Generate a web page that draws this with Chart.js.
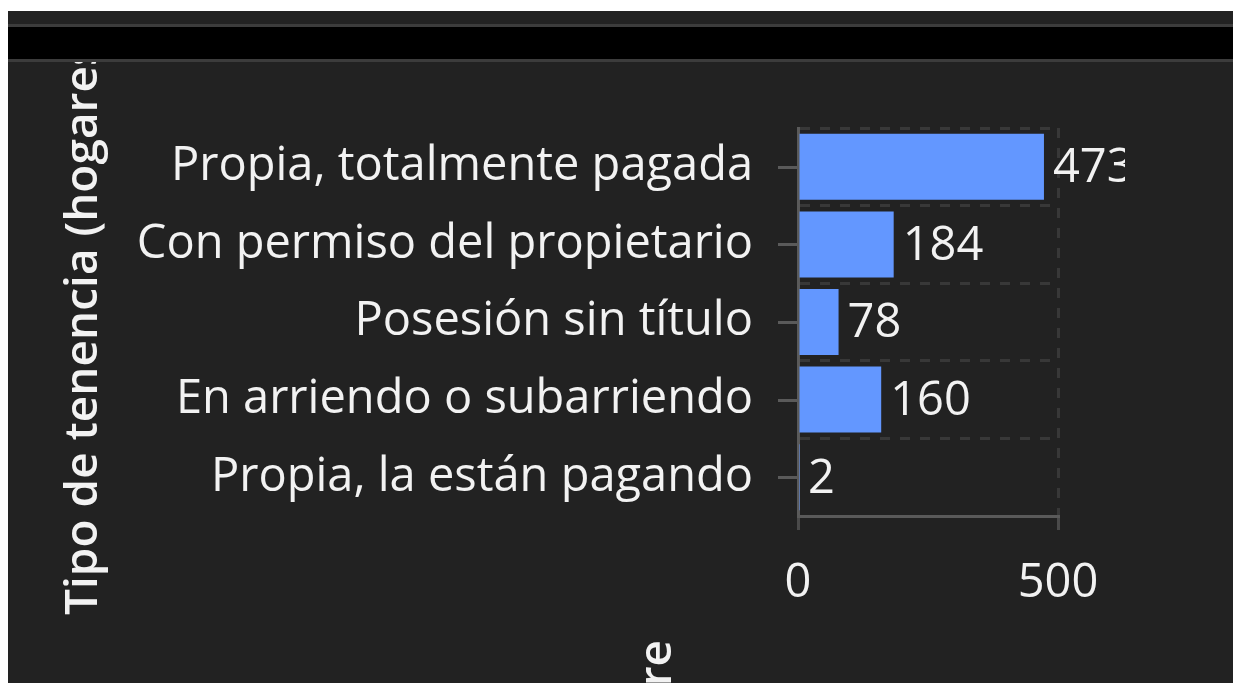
<!DOCTYPE html>
<html>
<head>
<meta charset="utf-8">
<script src="https://cdn.jsdelivr.net/npm/chart.js"></script>
<style>
  body { margin: 0; background: #ffffff; overflow: hidden; }
  #wrap { position: absolute; left: 8px; top: 11px; right: 0; bottom: 0; background: #222222; overflow: hidden; }
  #myChart { position: absolute; left: 0; top: 0; }
  #cover { position: absolute; left: 0; right: 0; top: 0; height: 13px; background: #222222; }
  #band { position: absolute; left: 0; right: 0; top: 13px; height: 32px; background: #000000;
          border-top: 3px solid #3c3c3c; border-bottom: 3px solid #3c3c3c; }
</style>
</head>
<body>
<div id="wrap">
  <canvas id="myChart" width="1117" height="672"></canvas>
  <div id="cover"></div>
  <div id="band"></div>
</div>
<script>
// categories and values
const categories = [
    'Propia, totalmente pagada',
    'Con permiso del propietario',
    'Posesión sin título',
    'En arriendo o subarriendo',
    'Propia, la están pagando'
];
const hogares = [473, 184, 78, 160, 2];
const xTicks = [0, 500];

const yTitle = 'Tipo de tenencia (hogares)';
const xTitle = 'Número de hogare';

const textColor = '#f2f2f2';
const fontFamily = '"Open Sans", "Noto Sans", sans-serif';

// value label at the end of each bar
const valueLabels = {
    id: 'valueLabels',
    afterDatasetsDraw(chart) {
        const ctx = chart.ctx;
        const meta = chart.getDatasetMeta(0);
        ctx.save();
        ctx.fillStyle = textColor;
        ctx.font = '47px ' + fontFamily;
        ctx.textAlign = 'left';
        ctx.textBaseline = 'middle';
        meta.data.forEach(function(bar, i) {
            ctx.fillText(String(hogares[i]), bar.x + 9, bar.y + 2);
        });
        ctx.restore();
    }
};

// tick marks of the category axis sit on the category centres,
// while its grid lines stay on the boundaries
const categoryTicks = {
    id: 'categoryTicks',
    afterDraw(chart) {
        const ctx = chart.ctx;
        const yScale = chart.scales.y;
        const left = chart.chartArea.left;
        ctx.save();
        ctx.strokeStyle = '#5a5a5a';
        ctx.lineWidth = 3;
        categories.forEach(function(c, i) {
            const y = Math.round(yScale.getPixelForValue(i)) + 0.5;
            ctx.beginPath();
            ctx.moveTo(left - 20, y);
            ctx.lineTo(left, y);
            ctx.stroke();
        });
        ctx.restore();
    }
};

// both axis titles are drawn turned upwards
const axisTitles = {
    id: 'axisTitles',
    afterDraw(chart) {
        const ctx = chart.ctx;
        const area = chart.chartArea;
        ctx.save();
        ctx.fillStyle = textColor;
        ctx.font = '600 46px ' + fontFamily;
        ctx.textBaseline = 'alphabetic';

        ctx.save();
        ctx.translate(89, (area.top + area.bottom) / 2);
        ctx.rotate(-Math.PI / 2);
        ctx.textAlign = 'center';
        ctx.fillText(yTitle, 0, 0);
        ctx.restore();

        ctx.save();
        ctx.translate(663, 629);
        ctx.rotate(-Math.PI / 2);
        ctx.textAlign = 'right';
        ctx.fillText(xTitle, 0, 0);
        ctx.restore();

        ctx.restore();
    }
};

const data = {
    labels: categories,
    datasets: [{
        label: 'Hogares',
        data: hogares,
        backgroundColor: '#6397ff',
        borderWidth: 0,
        barPercentage: 0.85,
        categoryPercentage: 1.0
    }]
};

const config = {
    type: 'bar',
    data: data,
    options: {
        indexAxis: 'y',
        responsive: false,
        devicePixelRatio: 1,
        animation: false,
        layout: { padding: { top: 117, right: 67, bottom: 0, left: 0 } },
        plugins: {
            legend: { display: false },
            tooltip: { enabled: false }
        },
        scales: {
            x: {
                type: 'linear',
                min: 0,
                max: 500,
                afterFit: function(scale) { scale.height = 167; },
                afterBuildTicks: function(scale) {
                    scale.ticks = xTicks.map(function(v) { return { value: v }; });
                },
                ticks: {
                    color: textColor,
                    font: { family: fontFamily, size: 47 },
                    padding: 25
                },
                grid: {
                    color: '#383838',
                    lineWidth: 3,
                    tickLength: 14,
                    tickColor: '#4a4a4a',
                    tickWidth: 3
                },
                border: { color: '#5a5a5a', width: 3, dash: [10, 10] }
            },
            y: {
                afterFit: function(scale) { scale.width = 790; },
                ticks: {
                    color: textColor,
                    font: { family: fontFamily, size: 47 },
                    padding: 45
                },
                grid: {
                    color: '#383838',
                    lineWidth: 3,
                    drawTicks: false
                },
                border: { color: '#5a5a5a', width: 3, dash: [10, 10] }
            }
        }
    },
    plugins: [valueLabels, categoryTicks, axisTitles]
};

var myChartJS = new Chart(document.getElementById('myChart'), config);
</script>
</body>
</html>
